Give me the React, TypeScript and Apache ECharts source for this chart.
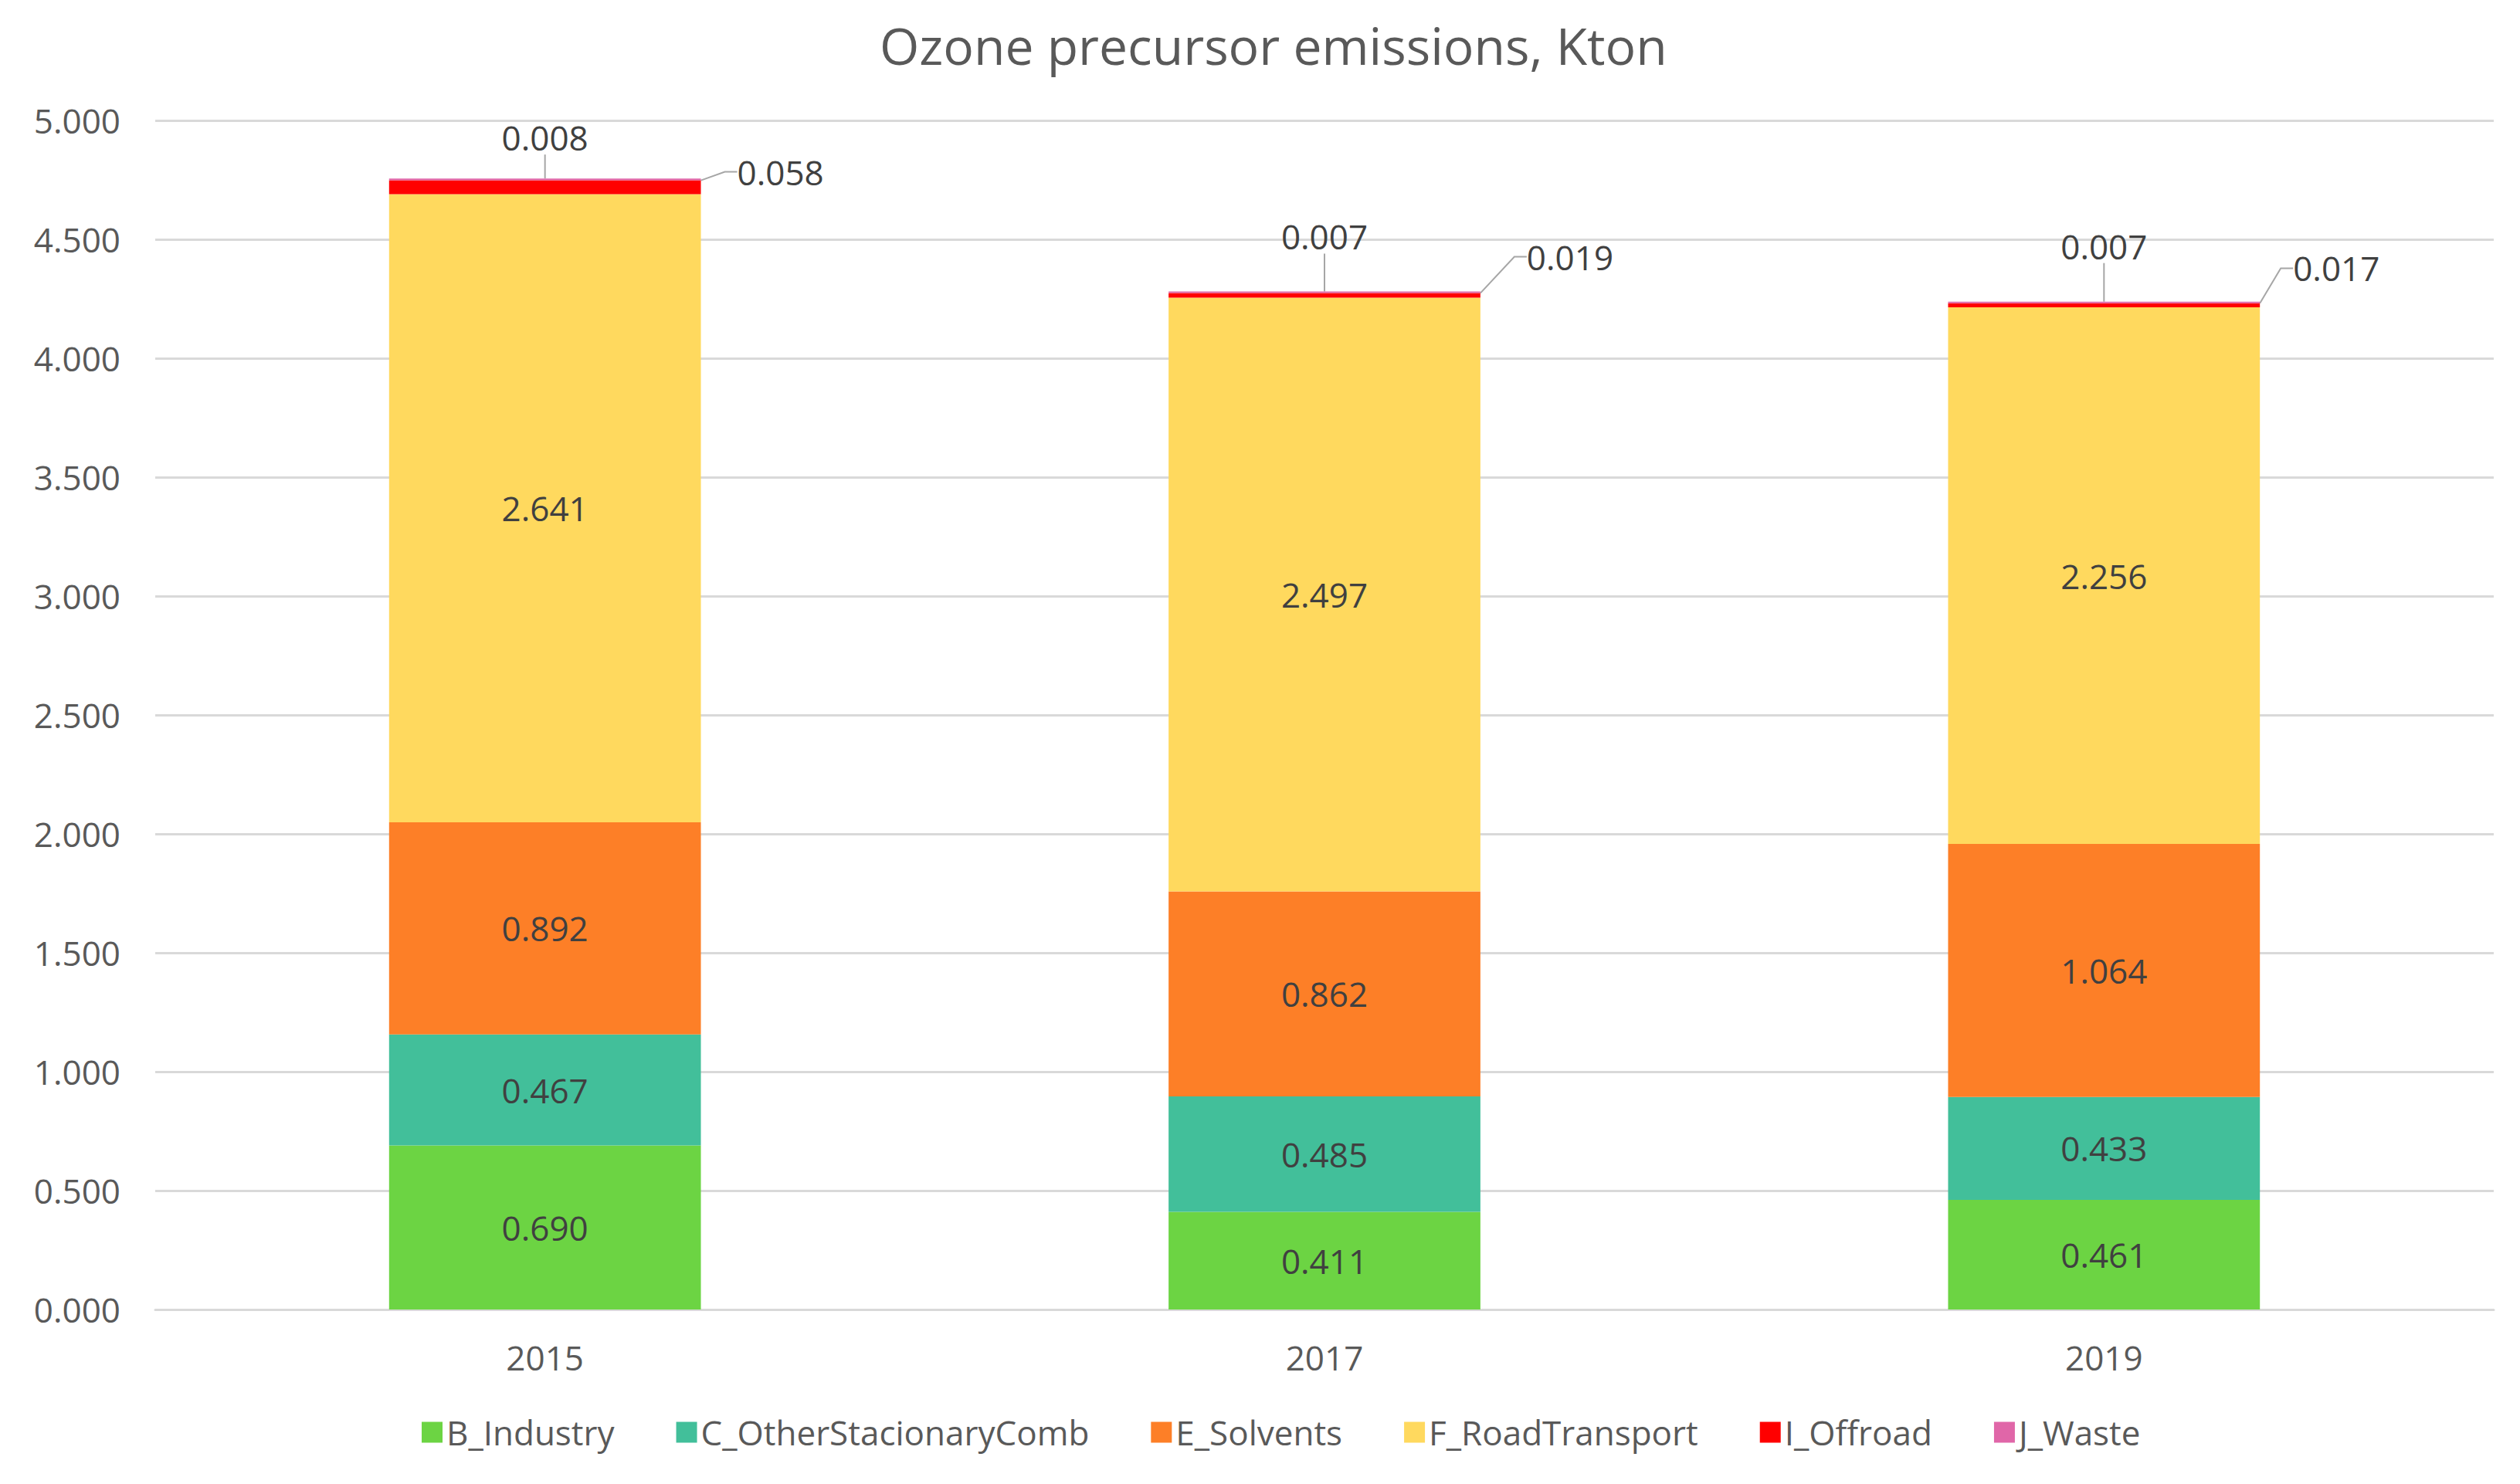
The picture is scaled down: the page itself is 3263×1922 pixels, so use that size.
import React, { useEffect, useRef } from "react";
import * as echarts from "echarts";

const years = ["2015", "2017", "2019"];
const industry = [0.69, 0.411, 0.461];
const otherStationary = [0.467, 0.485, 0.433];
const solvents = [0.892, 0.862, 1.064];
const roadTransport = [2.641, 2.497, 2.256];
const offroad = [0.058, 0.019, 0.017];
const waste = [0.008, 0.007, 0.007];

const seriesNames = [
  "B_Industry",
  "C_OtherStacionaryComb",
  "E_Solvents",
  "F_RoadTransport",
  "I_Offroad",
  "J_Waste",
];
const colors = ["#6CD443", "#42BF9A", "#FD7F27", "#FFD95E", "#FF0000", "#E066A8"];

// label offsets for the small outside labels
const offroadDx = [42, 55, 38];
const offroadDy = [-20, -50, -48];
const wasteDy = [-26, -44, -45];

const FONT = "'Open Sans', 'Noto Sans', sans-serif";
const FS = 44;

export default function App() {
  const ref = useRef<HTMLDivElement>(null);
  useEffect(() => {
    if (!ref.current) return;
    const chart = echarts.init(ref.current, undefined, { renderer: "svg" });
    const fmt = (p: any) => Number(p.value).toFixed(3);
    const insideLabel = {
      show: true,
      position: "inside",
      formatter: fmt,
      color: "#404040",
      fontFamily: FONT,
      fontSize: FS,
    };
    const dataSets = [industry, otherStationary, solvents, roadTransport, offroad, waste];
    const series: any[] = dataSets.map((d, i) => {
      const s: any = {
        name: seriesNames[i],
        type: "bar",
        stack: "total",
        data: d,
        barCategoryGap: "60%",
        itemStyle: { color: colors[i] },
        label: insideLabel,
      };
      if (i === 4) {
        s.label = {
          show: true,
          position: "right",
          distance: 5,
          formatter: fmt,
          color: "#404040",
          fontFamily: FONT,
          fontSize: FS,
        };
        s.labelLayout = (p: any) => ({ dx: offroadDx[p.dataIndex], dy: offroadDy[p.dataIndex] });
        s.labelLine = { show: true, length2: 16, lineStyle: { color: "#A6A6A6", width: 2 } };
      }
      if (i === 5) {
        s.label = {
          show: true,
          position: "top",
          distance: 5,
          formatter: fmt,
          color: "#404040",
          fontFamily: FONT,
          fontSize: FS,
        };
        s.labelLayout = (p: any) => ({ dy: wasteDy[p.dataIndex] });
        s.labelLine = { show: true, length2: 0, lineStyle: { color: "#A6A6A6", width: 2 } };
      }
      return s;
    });
    chart.setOption({
      animation: false,
      backgroundColor: "#FFFFFF",
      title: {
        text: "Ozone precursor emissions, Kton",
        left: 1134,
        top: 20,
        textStyle: { fontFamily: FONT, fontSize: 66, fontWeight: "normal", color: "#595959" },
      },
      grid: { left: 201, right: 34, top: 156, bottom: 226, containLabel: false },
      xAxis: {
        type: "category",
        data: years,
        axisTick: { show: false },
        axisLine: { show: true, lineStyle: { color: "#D9D9D9", width: 3 } },
        axisLabel: { color: "#595959", fontFamily: FONT, fontSize: FS, margin: 40 },
      },
      yAxis: {
        type: "value",
        min: 0,
        max: 5,
        interval: 0.5,
        axisLine: { show: false },
        axisTick: { show: false },
        splitLine: { lineStyle: { color: "#D9D9D9", width: 3 } },
        axisLabel: {
          color: "#595959",
          fontFamily: FONT,
          fontSize: FS,
          margin: 45,
          formatter: (v: number) => v.toFixed(3),
        },
      },
      legend: {
        data: seriesNames,
        left: 541,
        top: 1828,
        icon: "rect",
        itemWidth: 27,
        itemHeight: 27,
        itemGap: 80,
        textStyle: { color: "#595959", fontFamily: FONT, fontSize: FS },
      },
      series,
    });
    return () => chart.dispose();
  }, []);
  return (
    <div
      ref={ref}
      style={{ position: "fixed", left: 0, top: 0, width: 3263, height: 1922, background: "#fff" }}
    />
  );
}
